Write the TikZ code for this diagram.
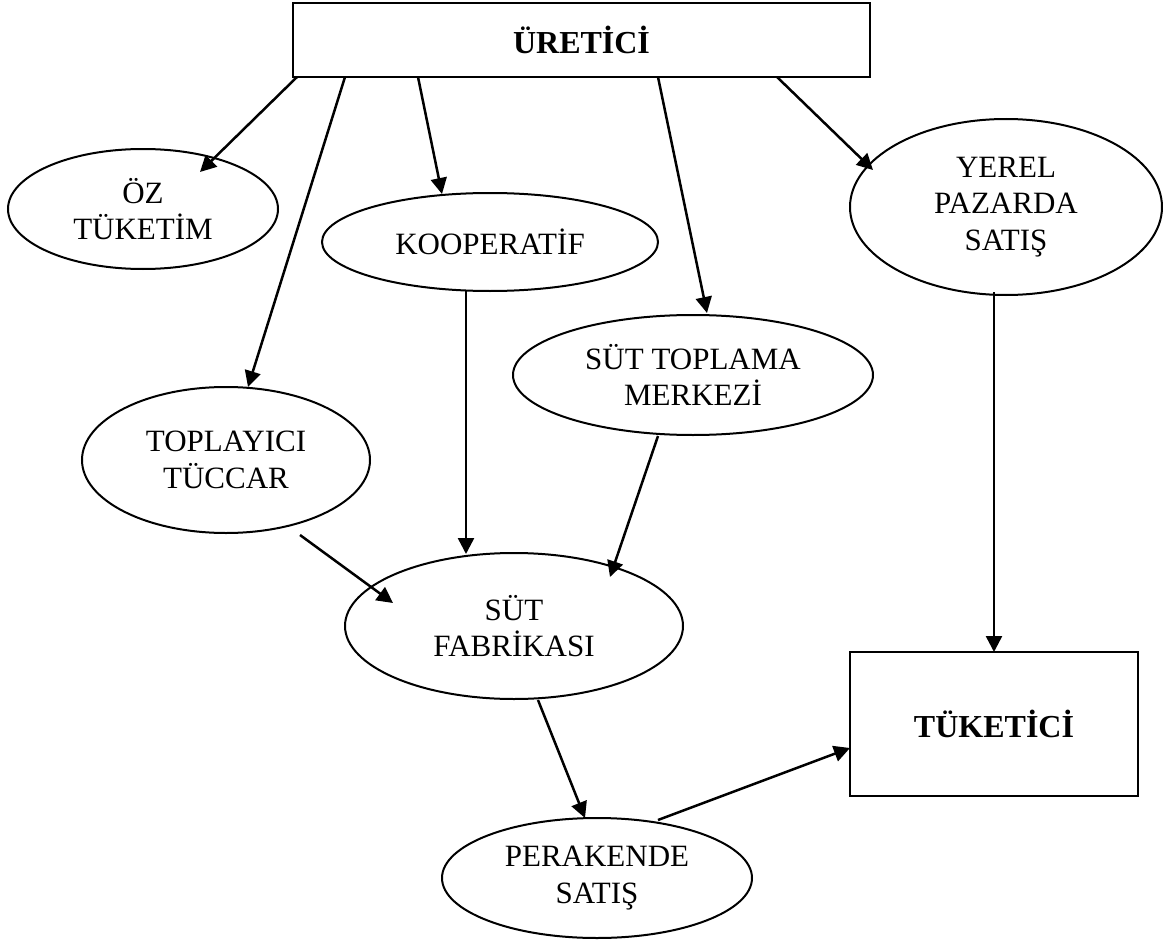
\documentclass[tikz,border=0pt]{standalone}
\usepackage{fontspec}
\setmainfont{Liberation Serif}
\usetikzlibrary{shapes.geometric,arrows.meta}
\tikzset{
  ell/.style={ellipse, draw, line width=2pt, inner sep=0pt, align=center,
    font=\fontsize{31}{36.5}\selectfont},
  boxnode/.style={rectangle, draw, line width=2.5pt, inner sep=0pt, align=center,
    font=\fontsize{32}{38}\selectfont\bfseries},
  arr/.style={line width=2.5pt, -{Triangle[length=16pt,width=16pt]}}
}
\begin{document}
\begin{tikzpicture}[x=1pt,y=-1pt]
\useasboundingbox (0,0) rectangle (1163,942);
% boxes
\node[boxnode, minimum width=577pt, minimum height=74pt] (uret) at (581.5,40) {ÜRETİCİ};
\node[boxnode, minimum width=288pt, minimum height=144pt] (tuk) at (994,724) {TÜKETİCİ};
% ellipses
\node[ell, minimum width=270pt, minimum height=120pt] (ozt) at (143,209) {ÖZ\\TÜKETİM};
\node[ell, minimum width=336pt, minimum height=98pt] (koop) at (490,242) {KOOPERATİF};
\node[ell, minimum width=312pt, minimum height=176pt] (yerel) at (1006,207) {YEREL\\PAZARDA\\SATIŞ};
\node[ell, minimum width=360pt, minimum height=120pt] (stm) at (693,375) {SÜT TOPLAMA\\MERKEZİ};
\node[ell, minimum width=288pt, minimum height=146pt] (topl) at (226,460) {TOPLAYICI\\TÜCCAR};
\node[ell, minimum width=338pt, minimum height=146pt] (fab) at (514,626) {SÜT\\FABRİKASI};
\node[ell, minimum width=310pt, minimum height=120pt] (per) at (597,878) {PERAKENDE\\SATIŞ};
% connector ends
\coordinate (s1) at (297,77);  \coordinate (t1) at (200,172);
\coordinate (s2) at (345,77);  \coordinate (t2) at (248,387);
\coordinate (s3) at (418,77);  \coordinate (t3) at (442,194);
\coordinate (s4) at (658,77);  \coordinate (t4) at (707,313);
\coordinate (s5) at (777,77);  \coordinate (t5) at (873,170);
\coordinate (s6) at (466,291); \coordinate (t6) at (466,554);
\coordinate (s7) at (658,436); \coordinate (t7) at (610,577);
\coordinate (s8) at (300,535); \coordinate (t8) at (393,603);
\coordinate (s9) at (538,700); \coordinate (t9) at (585,818);
\coordinate (s10) at (658,820); \coordinate (t10) at (850,748);
\coordinate (s11) at (994,292); \coordinate (t11) at (994,652);
% connectors
\draw[arr] (s1) -- (t1);
\draw[arr] (s2) -- (t2);
\draw[arr] (s3) -- (t3);
\draw[arr] (s4) -- (t4);
\draw[arr] (s5) -- (t5);
\draw[arr] (s6) -- (t6);
\draw[arr] (s7) -- (t7);
\draw[arr] (s8) -- (t8);
\draw[arr] (s9) -- (t9);
\draw[arr] (s10) -- (t10);
\draw[arr] (s11) -- (t11);
\end{tikzpicture}
\end{document}
